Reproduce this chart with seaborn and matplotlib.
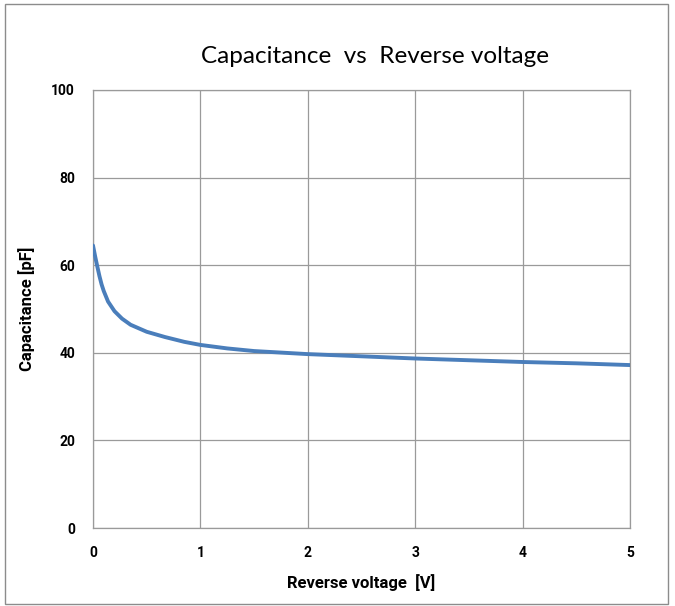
import numpy as np
import pandas as pd
import matplotlib
matplotlib.use('Agg')
import matplotlib.pyplot as plt
import seaborn as sns
from matplotlib.patches import Rectangle

# values
voltage = [0, 0.02, 0.04, 0.06, 0.08, 0.1, 0.14, 0.2, 0.27, 0.35, 0.5, 0.67, 0.85,
           1.0, 1.25, 1.5, 2.0, 2.5, 3.0, 3.5, 4.0, 4.5, 5.0]
capacitance = [64.5, 62.0, 59.7, 57.5, 55.6, 54.1, 51.7, 49.5, 47.8, 46.4, 44.8, 43.6, 42.5,
               41.8, 41.0, 40.4, 39.7, 39.2, 38.7, 38.3, 37.9, 37.6, 37.2]
x_ticks = [0, 1, 2, 3, 4, 5]
y_ticks = [0, 20, 40, 60, 80, 100]

df = pd.DataFrame({'voltage': voltage, 'capacitance': capacitance})

sns.set_style('white')
plt.rcParams['font.family'] = ['Lato', 'DejaVu Sans']
plt.rcParams['text.color'] = 'black'
bold_font = ['Roboto', 'DejaVu Sans']

fig = plt.figure(figsize=(6.75, 6.06), dpi=100)
ax = fig.add_axes([0.1378, 0.1287, 0.7955, 0.7228])

sns.lineplot(data=df, x='voltage', y='capacitance', ax=ax,
             color='#4A7EBB', linewidth=2.8, zorder=3)

ax.set_xlim(0, 5)
ax.set_ylim(0, 100)
ax.set_xticks(x_ticks)
ax.set_yticks(y_ticks)
ax.grid(True, color='#9a9a9a', linewidth=0.9)
for s in ax.spines.values():
    s.set_color('#9a9a9a')
    s.set_linewidth(0.9)
ax.tick_params(axis='both', direction='out', length=5, color='#9a9a9a',
               width=0.9, labelsize=10, pad=8, labelcolor='black')
for lab in ax.get_xticklabels() + ax.get_yticklabels():
    lab.set_fontweight('bold')
    lab.set_family(bold_font)

ax.set_xlabel('Reverse voltage  [V]', fontsize=12, fontweight='bold', labelpad=10,
              color='black', family=bold_font)
ax.set_ylabel('Capacitance [pF]', fontsize=12, fontweight='bold', labelpad=12,
              color='black', family=bold_font)

fig.text(0.556, 0.906, 'Capacitance  vs  Reverse voltage', ha='center', va='center',
         fontsize=17.5, color='black')

# outer chart border
fig.patches.append(Rectangle((5 / 675, 2 / 606), 663 / 675, 600 / 606,
                             transform=fig.transFigure, fill=False,
                             edgecolor='#8c8c8c', linewidth=1))

fig.savefig('out.png', dpi=100)
